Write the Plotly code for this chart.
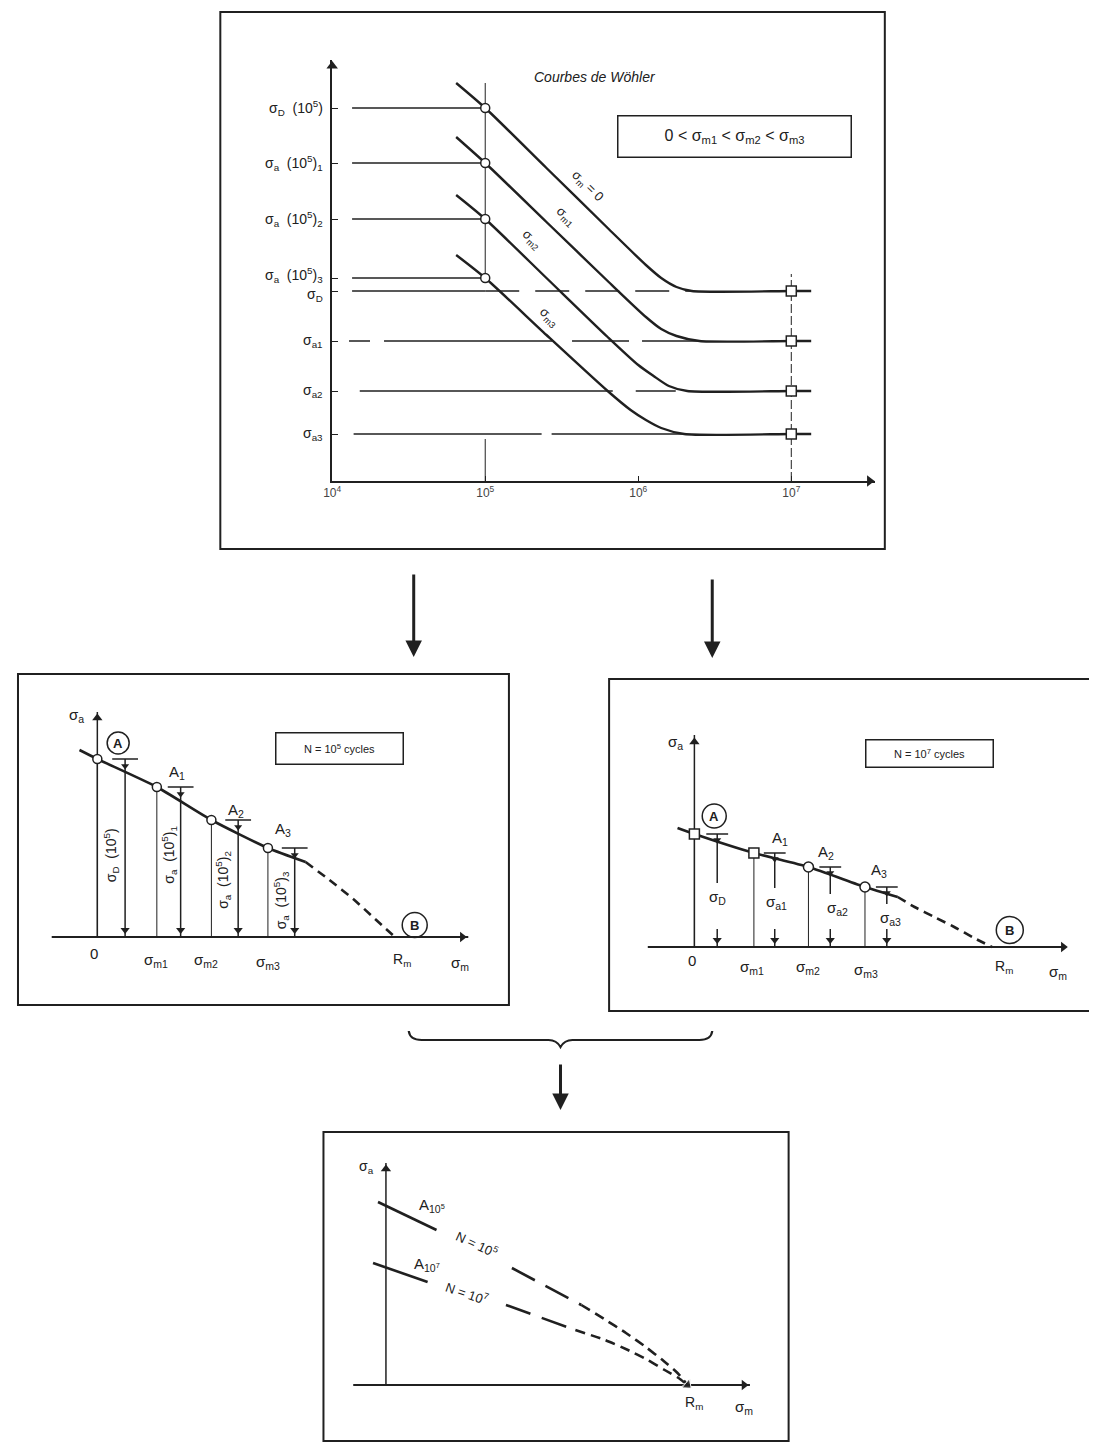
import plotly.graph_objects as go

W, H = 1097, 1443
DX, DY = 12, 8          # page offset of the figure inside the browser page
INK = "#202020"
GREY = "#444444"
FONT = "Liberation Sans"

# ======================= DATA =======================
# --- Top panel : Wöhler curves  (x = log10 of number of cycles, y = sigma_a)
N_TICK_EXP = [4, 5, 6, 7]
N_TICK_TEXT = ["10<sup>4</sup>", "10<sup>5</sup>", "10<sup>6</sup>", "10<sup>7</sup>"]
SIG_AT_1E5 = [373, 318, 262, 203]
SIG_AT_1E5_TEXT = ["σ<sub>D</sub>  (10<sup>5</sup>)",
                   "σ<sub>a</sub>  (10<sup>5</sup>)<sub>1</sub>",
                   "σ<sub>a</sub>  (10<sup>5</sup>)<sub>2</sub>",
                   "σ<sub>a</sub>  (10<sup>5</sup>)<sub>3</sub>"]
SIG_AT_1E7 = [190, 140, 90, 47]
SIG_AT_1E7_TEXT = ["σ<sub>D</sub>", "σ<sub>a1</sub>", "σ<sub>a2</sub>", "σ<sub>a3</sub>"]
CURVE_TEXT = ["σ<sub>m</sub> = 0", "σ<sub>m1</sub>", "σ<sub>m2</sub>", "σ<sub>m3</sub>"]

W0_LOGN = [4.81, 5.00, 5.40, 5.80, 6.05, 6.15, 6.25, 6.35, 7.00, 7.13]
W0_SIG = [398, 373, 313, 253, 216, 203, 194, 190, 190, 190]
W1_LOGN = [4.81, 5.00, 5.40, 5.80, 6.05, 6.15, 6.25, 6.40, 7.00, 7.13]
W1_SIG = [344, 318, 259, 200, 164, 152, 145, 140, 140, 140]
W2_LOGN = [4.81, 5.00, 5.40, 5.80, 6.00, 6.10, 6.20, 6.32, 7.00, 7.13]
W2_SIG = [286, 262, 203, 144, 116, 105, 95, 90, 90, 90]
W3_LOGN = [4.81, 5.00, 5.40, 5.80, 5.95, 6.05, 6.15, 6.30, 7.00, 7.13]
W3_SIG = [226, 203, 146, 90, 71, 61, 53, 47, 47, 47]

# --- Middle panels : Haigh diagrams (x = sigma_m, y = sigma_a)
SIG_M = [0, 60, 115, 172]
SIG_M_TEXT = ["0", "σ<sub>m1</sub>", "σ<sub>m2</sub>", "σ<sub>m3</sub>"]
R_M = 300
POINT_TEXT = ["A", "A<sub>1</sub>", "A<sub>2</sub>", "A<sub>3</sub>"]

H5_SIG = [178, 150, 117, 89]
H5_LINE_M = [-18, 0, 60, 115, 172, 210]
H5_LINE_A = [187, 178, 150, 117, 89, 75]
H5_DASH_M = [210, 234, 258, 280, 300]
H5_DASH_A = [75, 57, 38, 18, 0]
H5_ARROW_M = [28, 84, 142, 199]

H7_SIG = [113, 94, 80, 60]
H7_LINE_M = [-17, 0, 60, 115, 172, 205]
H7_LINE_A = [119, 113, 94, 80, 60, 50]
H7_DASH_M = [205, 222, 242, 262, 282, 300]
H7_DASH_A = [50, 40, 30, 20, 9, 0]
H7_ARROW_M = [23, 81, 137, 194]
H7_MARKERS = ["square", "square", "circle", "circle"]

# --- Bottom panel : the two envelopes
R_M_ENV = 304
E5_SOLID_M = [-8, 51]
E5_SOLID_A = [183, 155]
E5_LONG_M = [127, 197]
E5_LONG_A = [117, 80]
E5_SHORT_M = [197, 220, 242, 262, 280, 294, 304]
E5_SHORT_A = [80, 66, 52, 38, 24, 12, 0]
E7_SOLID_M = [-13, 42]
E7_SOLID_A = [122, 103]
E7_LONG_M = [121, 191]
E7_LONG_A = [80, 55]
E7_SHORT_M = [191, 221, 244, 264, 281, 295, 304]
E7_SHORT_A = [55, 45, 35, 25, 15, 7, 0]

# ======================= GEOMETRY (pixels of the target picture) =======================
TOP_FRAME = (217, 12, 887, 549)
TOP_OX, TOP_OY, TOP_DEC, TOP_XEND, TOP_YEND = 329.8, 481, 154.3, 877, 60
ML_FRAME, ML_ORIGIN = (13, 674, 508, 1005), (93, 937)
MR_FRAME, MR_ORIGIN = (609, 679, 1095, 1011), (695, 947)
BOT_FRAME, BOT_ORIGIN = (321, 1132, 790, 1441), (384, 1385)


def px(x):
    return (x - DX) / W


def py(y):
    return 1 - (y - DY) / H


fig = go.Figure()
annotations = []
shapes = []


def refs(ax):
    return ("x", "y") if ax == 1 else (f"x{ax}", f"y{ax}")


def sc(ax, x, y, **kw):
    xr, yr = refs(ax)
    kw.setdefault("mode", "lines")
    fig.add_trace(go.Scatter(x=x, y=y, xaxis=xr, yaxis=yr, hoverinfo="skip",
                             showlegend=False, **kw))


def txt(ax, text, x, y, size=12, angle=0, xshift=0, yshift=0, color=INK, **kw):
    xr, yr = refs(ax)
    annotations.append(dict(text=text, x=x, y=y, xref=xr, yref=yr, showarrow=False,
                            textangle=angle, xshift=xshift, yshift=yshift,
                            font=dict(family=FONT, size=size, color=color), **kw))


def line(w=1.5, dash="solid", shape="linear"):
    return dict(color=INK, width=w, dash=dash, shape=shape)


def arrowhead(ax, x, y, symbol, size=10):
    sc(ax, [x], [y], mode="markers", cliponaxis=False,
       marker=dict(symbol=symbol, size=size, color=INK, line=dict(width=0)))


def circled(ax, letter, x, y, size=22):
    sc(ax, [x], [y], mode="markers", cliponaxis=False,
       marker=dict(symbol="circle-open", size=size, color=INK, line=dict(width=1.5)))
    txt(ax, f"<b>{letter}</b>", x, y, size=13)


# ======================= TOP PANEL =======================
lg = lambda v: 10 ** v
W_LOGN = [W0_LOGN, W1_LOGN, W2_LOGN, W3_LOGN]
W_SIG = [W0_SIG, W1_SIG, W2_SIG, W3_SIG]

# vertical construction lines at 10^5 and 10^7
sc(1, [1e5, 1e5, None, 1e5, 1e5], [W0_SIG[0], SIG_AT_1E5[3], None, SIG_AT_1E7[3] - 5, 0], line=line(1))
sc(1, [1e7, 1e7], [0, SIG_AT_1E7[0] + 17], line=line(1, "9px,3px"))

# horizontal lines at the 10^5 levels
for s in SIG_AT_1E5:
    sc(1, [lg(4.13), 1e5], [s, s], line=line(1.5))

# horizontal lines at the endurance levels
sc(1, [lg(4.13), 1e5], [SIG_AT_1E7[0]] * 2, line=line(1.5))
sc(1, [1e5, lg(W0_LOGN[7])], [SIG_AT_1E7[0]] * 2, line=line(1.5, "34px,16px"))
sc(1, [lg(4.11), lg(W1_LOGN[7])], [SIG_AT_1E7[1]] * 2,
   line=line(1.5, "21px,14px,168px,20px,57px,13px,60px"))
sc(1, [lg(4.18), lg(W2_LOGN[7])], [SIG_AT_1E7[2]] * 2, line=line(1.5, "253px,23px,40px,20px"))
sc(1, [lg(4.14), lg(W3_LOGN[7])], [SIG_AT_1E7[3]] * 2, line=line(1.5, "188px,10px,400px"))

# Wöhler curves
for ln, sg in zip(W_LOGN, W_SIG):
    sc(1, [lg(v) for v in ln], sg, line=dict(color=INK, width=2.4, shape="spline", smoothing=0.7))

# markers
sc(1, [1e5] * 4, SIG_AT_1E5, mode="markers",
   marker=dict(symbol="circle", size=9, color="white", line=dict(color=INK, width=1.5)))
sc(1, [1e7] * 4, SIG_AT_1E7, mode="markers",
   marker=dict(symbol="square", size=10, color="white", line=dict(color=INK, width=1.5)))

arrowhead(1, lg(4 + (TOP_XEND - TOP_OX) / TOP_DEC - 0.035), 0, "triangle-right")
arrowhead(1, 1e4, TOP_OY - TOP_YEND - 6, "triangle-up")

# y labels of the top panel (right aligned next to the axis)
ylab_shift = [0, 0, 0, 3, -4, 0, 0, 0]
for t, v, sh in zip(SIG_AT_1E5_TEXT + SIG_AT_1E7_TEXT, SIG_AT_1E5 + SIG_AT_1E7, ylab_shift):
    txt(1, t, 4, v, size=14, xanchor="right", xshift=-7, yshift=sh)

# texts of the top panel
txt(1, "σ<sub>a</sub>", 3.898, 423, size=14)
txt(1, "<i>Courbes de Wöhler</i>", 5.72, 404, size=14)
txt(1, "0 &lt; σ<sub>m1</sub> &lt; σ<sub>m2</sub> &lt; σ<sub>m3</sub>", 6.626, 344, size=16,
    bordercolor=INK, borderwidth=1.5, width=230, height=38, bgcolor="white")
txt(1, "Nombre de cycles", 6.827, -36, size=11, color=GREY)
curve_lab_pos = [(5.667, 294), (5.524, 264), (5.30, 241), (5.415, 163)]
for t, (lx, ly) in zip(CURVE_TEXT, curve_lab_pos):
    txt(1, t, lx, ly, size=13, angle=44)

# ======================= MIDDLE LEFT : N = 10^5 =======================
ax = 2
sc(ax, [-46, 374], [0, 0], line=line(2))
arrowhead(ax, 368, 0, "triangle-right", 9)
sc(ax, [0, 0], [0, 225], line=line(1.5))
arrowhead(ax, 0, 219, "triangle-up", 9)

vx, vy = [], []
for m, a in zip(SIG_M, H5_SIG):
    vx += [m, m, None]
    vy += [a, 0, None]
sc(ax, vx, vy, line=line(1))

sc(ax, H5_LINE_M, H5_LINE_A, line=dict(color=INK, width=2.6, shape="spline", smoothing=0.6))
sc(ax, H5_DASH_M, H5_DASH_A, line=dict(color=INK, width=2.6, dash="9px,6px", shape="spline", smoothing=0.6))

bx, by, shx, shy = [], [], [], []
for xa_, a in zip(H5_ARROW_M, H5_SIG):
    bx += [xa_ - 13, xa_ + 13, None]
    by += [a, a, None]
    shx += [xa_, xa_, None]
    shy += [a, 0, None]
sc(ax, bx, by, line=line(1.5))
sc(ax, shx, shy, line=line(1.5))
sc(ax, H5_ARROW_M, [7] * 4, mode="markers", marker=dict(symbol="triangle-down", size=8, color=INK))
sc(ax, H5_ARROW_M, [a - 7 for a in H5_SIG], mode="markers",
   marker=dict(symbol="triangle-down", size=7, color=INK))
sc(ax, SIG_M, H5_SIG, mode="markers",
   marker=dict(symbol="circle", size=9, color="white", line=dict(color=INK, width=1.5)))

ml_off = [(21, 16), (20, 15), (25, 10), (15, 19)]
for i, (m, a) in enumerate(zip(SIG_M, H5_SIG)):
    dx, dy = ml_off[i]
    if i == 0:
        circled(ax, "A", m + dx, a + dy)
    else:
        txt(ax, POINT_TEXT[i], m + dx, a + dy, size=15)
circled(ax, "B", R_M + 20, 12, 25)

rot_y = [82, 82, 57, 37]
for i in range(4):
    txt(ax, SIG_AT_1E5_TEXT[i], (SIG_M[i] + H5_ARROW_M[i]) / 2 - (2 if i == 2 else 0), rot_y[i],
        size=14, angle=-90)

xl_shift = [(-3, -16), (-1, -23), (-5, -23), (0, -25)]
for i in range(4):
    txt(ax, SIG_M_TEXT[i], SIG_M[i], 0, size=15, xshift=xl_shift[i][0], yshift=xl_shift[i][1])
txt(ax, "R<sub>m</sub>", R_M, 0, size=14, xshift=7, yshift=-23)
txt(ax, "σ<sub>m</sub>", 366, 0, size=15, yshift=-26)
txt(ax, "σ<sub>a</sub>", 0, 222, size=15, xshift=-21)
txt(ax, "N = 10<sup>5</sup> cycles", 244, 189, size=11,
    bordercolor=INK, borderwidth=1.5, width=124, height=28, bgcolor="white")

# ======================= MIDDLE RIGHT : N = 10^7 =======================
ax = 3
sc(ax, [-47, 374], [0, 0], line=line(2))
arrowhead(ax, 372, 0, "triangle-right", 9)
sc(ax, [0, 0], [0, 212], line=line(1.5))
arrowhead(ax, 0, 205, "triangle-up", 9)

vx, vy = [], []
for m, a in zip(SIG_M, H7_SIG):
    vx += [m, m, None]
    vy += [a, 0, None]
sc(ax, vx, vy, line=line(1))

sc(ax, H7_LINE_M, H7_LINE_A, line=dict(color=INK, width=2.6, shape="spline", smoothing=0.6))
sc(ax, H7_DASH_M, H7_DASH_A, line=dict(color=INK, width=2.6, dash="9px,6px", shape="spline", smoothing=0.6))

lab_lift = [50, 45, 39, 29]
lab_dx = [0, 2, 7, 4]
bx, by, shx, shy = [], [], [], []
for xa_, a, lf in zip(H7_ARROW_M, H7_SIG, lab_lift):
    bx += [xa_ - 11, xa_ + 11, None]
    by += [a, a, None]
    shx += [xa_, xa_, None, xa_, xa_, None]
    shy += [a, lf + 14, None, 18, 0, None]
sc(ax, bx, by, line=line(1.5))
sc(ax, shx, shy, line=line(1.5))
sc(ax, H7_ARROW_M, [7] * 4, mode="markers", marker=dict(symbol="triangle-down", size=8, color=INK))
sc(ax, H7_ARROW_M, [a - 6 for a in H7_SIG], mode="markers",
   marker=dict(symbol="triangle-down", size=7, color=INK))
sc(ax, SIG_M, H7_SIG, mode="markers",
   marker=dict(symbol=H7_MARKERS, size=10, color="white", line=dict(color=INK, width=1.5)))

mr_off = [(20, 18), (26, 15), (18, 15), (14, 17)]
for i, (m, a) in enumerate(zip(SIG_M, H7_SIG)):
    dx, dy = mr_off[i]
    if i == 0:
        circled(ax, "A", m + dx, a + dy, 24)
    else:
        txt(ax, POINT_TEXT[i], m + dx, a + dy, size=15)
circled(ax, "B", R_M + 18, 17, 27)

for i in range(4):
    txt(ax, SIG_AT_1E7_TEXT[i], H7_ARROW_M[i] + lab_dx[i], lab_lift[i], size=15)

xl_shift = [(-2, -13), (-2, -20), (0, -20), (1, -23)]
for i in range(4):
    txt(ax, SIG_M_TEXT[i], SIG_M[i], 0, size=15, xshift=xl_shift[i][0], yshift=xl_shift[i][1])
txt(ax, "R<sub>m</sub>", R_M, 0, size=14, xshift=12, yshift=-20)
txt(ax, "σ<sub>m</sub>", 367, 0, size=15, yshift=-25)
txt(ax, "σ<sub>a</sub>", 0, 205, size=15, xshift=-19)
txt(ax, "N = 10<sup>7</sup> cycles", 237, 194, size=11,
    bordercolor=INK, borderwidth=1.5, width=124, height=24, bgcolor="white")

# ======================= BOTTOM PANEL =======================
ax = 4
sc(ax, [-33, 367], [0, 0], line=line(1.8))
arrowhead(ax, 361, 0, "triangle-right", 9)
sc(ax, [0, 0], [0, 222], line=line(1.5))
arrowhead(ax, 0, 216, "triangle-up", 9)

for sm, sa, lm, la, hm, ha in [(E5_SOLID_M, E5_SOLID_A, E5_LONG_M, E5_LONG_A, E5_SHORT_M, E5_SHORT_A),
                               (E7_SOLID_M, E7_SOLID_A, E7_LONG_M, E7_LONG_A, E7_SHORT_M, E7_SHORT_A)]:
    sc(ax, sm, sa, line=line(2.6))
    sc(ax, lm, la, line=line(2.6, "26px,12px"))
    sc(ax, hm, ha, line=dict(color=INK, width=2.6, dash="10px,6px", shape="spline", smoothing=0.5))
    sc(ax, hm[-2:], ha[-2:], mode="markers", cliponaxis=False,
       marker=dict(symbol="triangle-up", size=[0, 10], angleref="previous", color=INK))

txt(ax, "A<sub>10<sup>5</sup></sub>", 46, 180, size=15)
txt(ax, "A<sub>10<sup>7</sup></sub>", 41, 121, size=15)
txt(ax, "N = 10<sup>5</sup>", 92, 141, size=13, angle=25)
txt(ax, "N = 10<sup>7</sup>", 82, 92, size=13, angle=19)
txt(ax, "R<sub>m</sub>", R_M_ENV, 0, size=14, xshift=7, yshift=-18)
txt(ax, "σ<sub>m</sub>", 361, 0, size=15, yshift=-22)
txt(ax, "σ<sub>a</sub>", 0, 218, size=14, xshift=-19)

# ======================= FRAMES, CONNECTORS =======================
for (x0, y0, x1, y1) in [TOP_FRAME, ML_FRAME, MR_FRAME, BOT_FRAME]:
    shapes.append(dict(type="rect", xref="paper", yref="paper", x0=px(x0), x1=px(x1),
                       y0=py(y1), y1=py(y0), line=dict(color=INK, width=2)))


def P(x, y):
    return f"{px(x):.5f},{py(y):.5f}"


brace = (f"M {P(407,1031)} Q {P(408,1040)} {P(420,1040)} L {P(548,1040)} "
         f"Q {P(556,1040)} {P(560,1047)} Q {P(564,1040)} {P(572,1040)} L {P(700,1040)} "
         f"Q {P(712,1040)} {P(713,1031)}")
shapes.append(dict(type="path", xref="paper", yref="paper", path=brace,
                   line=dict(color=INK, width=2.2)))

for (tx, ty, length) in [(412, 657, 84), (713, 658, 80), (560, 1110, 47)]:
    annotations.append(dict(x=px(tx), y=py(ty), xref="paper", yref="paper", text="",
                            showarrow=True, ax=0, ay=-length, arrowhead=2, arrowsize=1.1,
                            arrowwidth=3, arrowcolor=INK, standoff=0))

# ======================= AXES =======================
def hidden_axes(frame, origin, n):
    x0, y0, x1, y1 = frame
    ox, oy = origin
    xa = dict(domain=[px(x0), px(x1)], range=[x0 - ox, x1 - ox], visible=False,
              fixedrange=True, anchor=f"y{n}")
    ya = dict(domain=[py(y1), py(y0)], range=[oy - y1, oy - y0], visible=False,
              fixedrange=True, anchor=f"x{n}")
    return xa, ya


x2, y2 = hidden_axes(ML_FRAME, ML_ORIGIN, 2)
x3, y3 = hidden_axes(MR_FRAME, MR_ORIGIN, 3)
x4, y4 = hidden_axes(BOT_FRAME, BOT_ORIGIN, 4)

fig.update_layout(
    width=W, height=H, margin=dict(l=0, r=0, t=0, b=0),
    paper_bgcolor="white", plot_bgcolor="rgba(0,0,0,0)", showlegend=False,
    font=dict(family=FONT, color=INK),
    xaxis=dict(type="log", domain=[px(TOP_OX), px(TOP_XEND)],
               range=[4, 4 + (TOP_XEND - TOP_OX) / TOP_DEC],
               showline=True, linecolor=INK, linewidth=2, ticks="inside", ticklen=5,
               tickcolor=INK, tickwidth=1.2, tickvals=[10 ** e for e in N_TICK_EXP],
               ticktext=N_TICK_TEXT, tickfont=dict(family=FONT, size=12, color=GREY),
               showgrid=False, zeroline=False, anchor="y", fixedrange=True),
    yaxis=dict(domain=[py(TOP_OY), py(TOP_YEND)], range=[0, TOP_OY - TOP_YEND],
               showline=True, linecolor=INK, linewidth=2, ticks="inside", ticklen=6,
               tickcolor=INK, tickwidth=1.2, tickvals=SIG_AT_1E5 + SIG_AT_1E7,
               showticklabels=False,
               showgrid=False, zeroline=False, anchor="x", fixedrange=True),
    xaxis2=x2, yaxis2=y2, xaxis3=x3, yaxis3=y3, xaxis4=x4, yaxis4=y4,
    annotations=annotations, shapes=shapes,
)

fig.write_html("out.html")
